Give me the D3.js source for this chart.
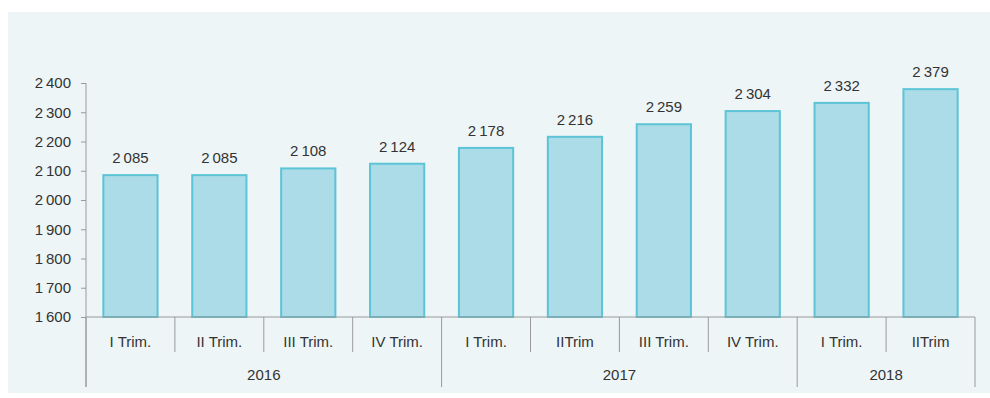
<!DOCTYPE html>
<html><head><meta charset="utf-8">
<script src="https://cdn.jsdelivr.net/npm/d3@7"></script>
<style>
html,body{margin:0;padding:0;background:#fff;}
svg{display:block;}
text{font-family:"Liberation Sans",Arial,sans-serif;fill:#333;}
</style></head>
<body>
<svg id="chart" width="990" height="398"></svg>
<script>
const quarters = ["I Trim.","II Trim.","III Trim.","IV Trim.","I Trim.","IITrim","III Trim.","IV Trim.","I Trim.","IITrim"];
const years = ["2016","2016","2016","2016","2017","2017","2017","2017","2018","2018"];
const values = [2085,2085,2108,2124,2178,2216,2259,2304,2332,2379];
const yTicks = [1600,1700,1800,1900,2000,2100,2200,2300,2400];
const yearGroups = ["2016","2017","2018"];

const svg = d3.select("#chart");
svg.append("rect").attr("x",8).attr("y",12).attr("width",982).attr("height",381).attr("fill","#edf5f7");

const idx = d3.range(values.length);
const x = d3.scaleBand().domain(idx).range([86,975]).padding(0);
const y = d3.scaleLinear().domain([1600,2400]).range([317,83]);
const fmt = v => { const s = String(v); return s.length>3 ? s.slice(0,s.length-3)+"\u2009"+s.slice(-3) : s; };
const axisColor = "#9a9a9a";
const barW = x.bandwidth()*0.61;

// bars
svg.append("g").selectAll("rect").data(idx).join("rect")
  .attr("x", i => x(i)+x.bandwidth()/2-barW/2)
  .attr("y", i => y(values[i]))
  .attr("width", barW)
  .attr("height", i => y(1600)-y(values[i]))
  .attr("fill","#acdce8")
  .attr("stroke","#5cc4d6")
  .attr("stroke-width",2);

// value labels
svg.append("g").selectAll("text").data(idx).join("text")
  .attr("x", i => x(i)+x.bandwidth()/2)
  .attr("y", i => y(values[i])-12)
  .attr("text-anchor","middle")
  .attr("font-size",15)
  .text(i => fmt(values[i]));

// y axis
const yAxis = svg.append("g").attr("transform","translate(86,0)")
  .call(d3.axisLeft(y).tickValues(yTicks).tickSize(5).tickPadding(10).tickFormat(fmt));
yAxis.select(".domain").remove();
yAxis.selectAll(".tick line").attr("stroke",axisColor);
yAxis.selectAll(".tick text").attr("font-size",15).attr("fill","#333").attr("font-family","Liberation Sans, Arial, sans-serif");
svg.append("line").attr("x1",86).attr("x2",86).attr("y1",y(2400)).attr("y2",387).attr("stroke",axisColor);

// x axis baseline
svg.append("line").attr("x1",x(0)).attr("x2",x.range()[1]).attr("y1",y(1600)).attr("y2",y(1600)).attr("stroke",axisColor);

// category separators
const bounds = d3.range(values.length+1);
svg.append("g").selectAll("line").data(bounds).join("line")
  .attr("x1", i => i<values.length ? x(i) : x.range()[1])
  .attr("x2", i => i<values.length ? x(i) : x.range()[1])
  .attr("y1", y(1600))
  .attr("y2", i => (i===0 || i===values.length || years[i]!==years[i-1]) ? 387 : 352)
  .attr("stroke",axisColor);

// quarter labels
svg.append("g").selectAll("text").data(idx).join("text")
  .attr("x", i => x(i)+x.bandwidth()/2)
  .attr("y", 347)
  .attr("text-anchor","middle")
  .attr("font-size",15)
  .text(i => quarters[i]);

// year labels
svg.append("g").selectAll("text").data(yearGroups).join("text")
  .attr("x", g => { const ii = idx.filter(i=>years[i]===g); return (x(ii[0]) + x(ii[ii.length-1])+x.bandwidth())/2; })
  .attr("y", 380)
  .attr("text-anchor","middle")
  .attr("font-size",15)
  .text(g => g);
</script>
</body></html>
